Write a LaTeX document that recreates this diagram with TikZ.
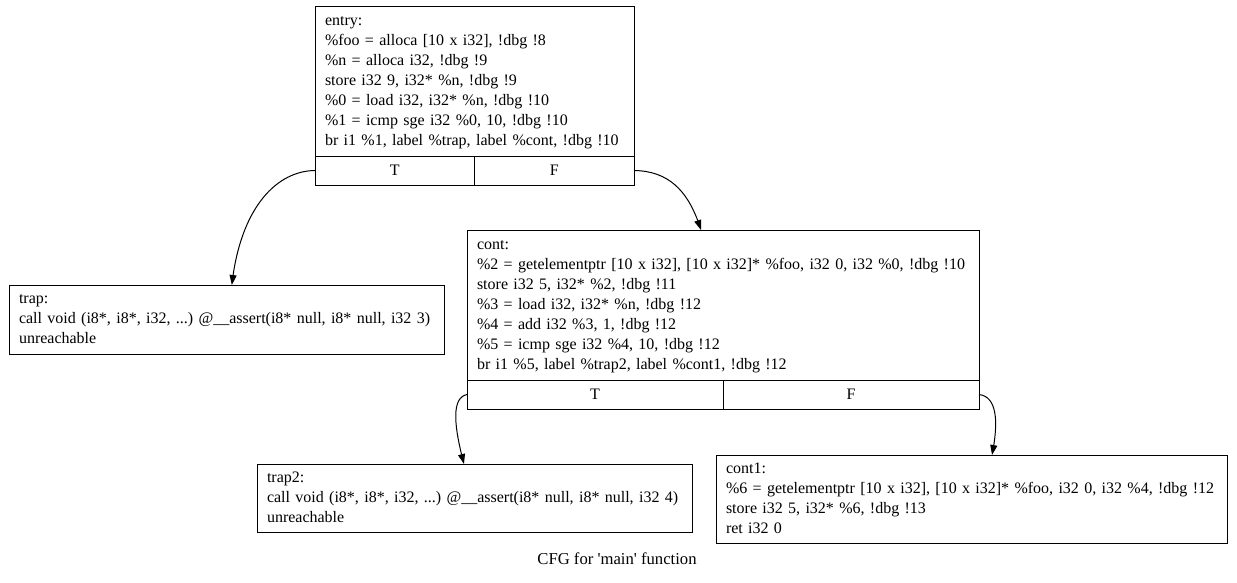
\documentclass[tikz,border=0pt]{standalone}
\usepackage{fontspec}
\setmainfont{Liberation Serif}
\usetikzlibrary{positioning,arrows.meta,bending}
\newcommand{\irlines}[1]{\noindent\begin{tabular}{@{}l@{}}#1\end{tabular}}
\frenchspacing

\begin{document}
\begin{tikzpicture}[x=0.75pt, y=-0.75pt, line width=0.75pt,
    font=\fontsize{12}{15}\selectfont,
    block/.style={draw, rectangle, anchor=north west, outer sep=0pt, inner xsep=7.5pt, inner ysep=0pt, align=left},
    cell/.style={draw, rectangle, outer sep=0pt, inner sep=0pt, minimum height=21.75pt},
    flow/.style={-{Triangle[length=7.5pt, width=5.25pt]}}]
    \useasboundingbox (0,0) rectangle (1237,582);
    \node (entry) [block, text width=224.25pt, minimum height=112.5pt] at (315,6) {\irlines{entry:\\
        \%foo = alloca [10 x i32], !dbg !8\\
        \%n = alloca i32, !dbg !9\\
        store i32 9, i32* \%n, !dbg !9\\
        \%0 = load i32, i32* \%n, !dbg !10\\
        \%1 = icmp sge i32 \%0, 10, !dbg !10\\
        br i1 \%1, label \%trap, label \%cont, !dbg !10}};
    \node (entryT) [cell, minimum width=119.625pt, below right=0pt and 0pt of entry.south west] {T};
    \node (entryF) [cell, minimum width=119.625pt, right=0pt of entryT] {F};
    \node (trap) [block, text width=311.25pt, minimum height=51.75pt] at (9,285) {\irlines{trap:\\
        call void (i8*, i8*, i32, ...) @\_\_assert(i8* null, i8* null, i32 3)\\
        unreachable}};
    \node (cont) [block, text width=369pt, minimum height=112.5pt] at (467,230) {\irlines{cont:\\
        \%2 = getelementptr [10 x i32], [10 x i32]* \%foo, i32 0, i32 \%0, !dbg !10\\
        store i32 5, i32* \%2, !dbg !11\\
        \%3 = load i32, i32* \%n, !dbg !12\\
        \%4 = add i32 \%3, 1, !dbg !12\\
        \%5 = icmp sge i32 \%4, 10, !dbg !12\\
        br i1 \%5, label \%trap2, label \%cont1, !dbg !12}};
    \node (contT) [cell, minimum width=192pt, below right=0pt and 0pt of cont.south west] {T};
    \node (contF) [cell, minimum width=192pt, right=0pt of contT] {F};
    \node (trap2) [block, text width=311.25pt, minimum height=51pt] at (257,464) {\irlines{trap2:\\
        call void (i8*, i8*, i32, ...) @\_\_assert(i8* null, i8* null, i32 4)\\
        unreachable}};
    \node (cont1) [block, text width=368.25pt, minimum height=66pt] at (716,455) {\irlines{cont1:\\
        \%6 = getelementptr [10 x i32], [10 x i32]* \%foo, i32 0, i32 \%4, !dbg !12\\
        store i32 5, i32* \%6, !dbg !13\\
        ret i32 0}};
    \node (title) [font=\fontsize{12.5}{15}\selectfont] at (617,559) {CFG for \textquotesingle{}main\textquotesingle{} function};
    \draw[flow] (entryT.west) .. controls (275,171) and (240,210) .. ([xshift=4pt]trap.north);
    \draw[flow] (entryF.east) .. controls (672,171) and (690,195) .. ([xshift=-16.5pt]cont.north);
    \draw[flow] (contT.west) .. controls (450,398) and (455,430) .. ([xshift=-7.9pt]trap2.north);
    \draw[flow] (contF.east) .. controls (1000,397) and (997,430) .. ([xshift=15.4pt]cont1.north);
\end{tikzpicture}
\end{document}
